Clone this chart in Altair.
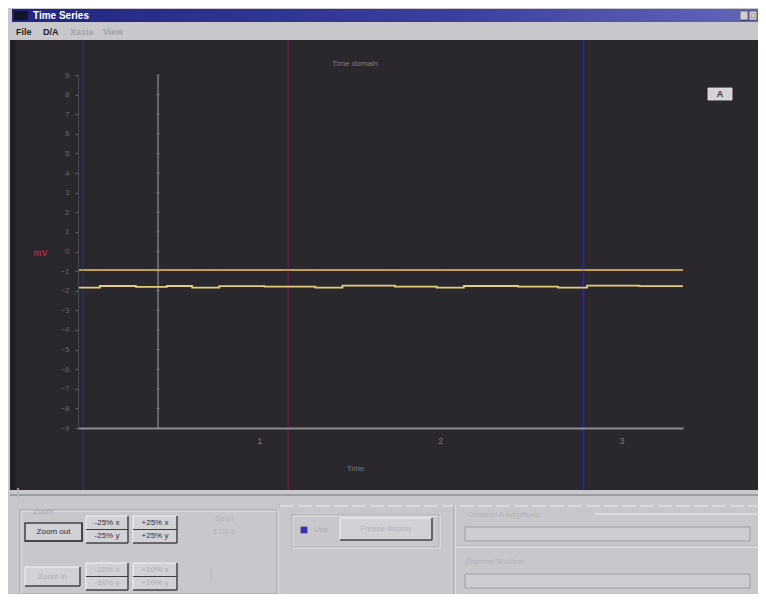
import altair as alt
import pandas as pd

# ---------------- data ----------------
# flat trace (upper yellow line)
trace_a_time = [0.0, 3.34]
trace_a_value = [-0.94, -0.94]

# slightly wandering trace (lower yellow line), step-wise
trace_b_time = [0.0, 0.12, 0.32, 0.49, 0.63, 0.78, 1.03, 1.31, 1.46, 1.75,
                1.98, 2.13, 2.43, 2.65, 2.81, 3.10, 3.34]
trace_b_value = [-1.84, -1.76, -1.80, -1.76, -1.84, -1.77, -1.79, -1.84, -1.74, -1.79,
                 -1.84, -1.76, -1.79, -1.84, -1.74, -1.77, -1.77]

zero_marker_time = [0.442]
cursor_times = [0.028, 1.16, 2.79]
y_tick_values = list(range(-9, 10))
x_tick_values = [1, 2, 3]

FONT = "Liberation Sans"

df_a = pd.DataFrame({"t": trace_a_time, "v": trace_a_value})
df_b = pd.DataFrame({"t": trace_b_time, "v": trace_b_value})
df_zero = pd.DataFrame({"t": zero_marker_time})
df_zero_ticks = pd.DataFrame({"t": zero_marker_time * len(y_tick_values), "v": y_tick_values})
one = pd.DataFrame({"k": [0]})

xs = alt.Scale(domain=[0, 3.34], nice=False, zero=False)
ys = alt.Scale(domain=[-9, 9], nice=False, zero=False)

x_axis = alt.Axis(values=x_tick_values, format="d", grid=False, ticks=False,
                  domainColor="#8c8c92", domainWidth=2, labelColor="#77777d",
                  labelFontSize=9, labelPadding=8, labelFont=FONT,
                  labelOverlap=False,
                  title="Time", titleColor="#7a7a80", titleFontSize=8,
                  titleFontWeight="normal", titleFont=FONT, titleX=277, titleY=40,
                  titleBaseline="middle", zindex=1)
y_axis = alt.Axis(values=y_tick_values, grid=False, domainColor="#4a4850",
                  tickColor="#66666c", tickSize=3, labelColor="#66666c",
                  labelFontSize=8, labelPadding=6, labelFont=FONT,
                  labelOverlap=False, labelSeparation=0,
                  title="mV", titleAngle=0, titleX=-38, titleY=177,
                  titleColor="#b02a50", titleFontSize=9, titleFontWeight="bold",
                  titleFont=FONT, titleAlign="center", titleBaseline="middle",
                  zindex=1)


def X():
    return alt.X("t:Q", scale=xs, axis=x_axis)


def Y():
    return alt.Y("v:Q", scale=ys, axis=y_axis)


# ---------------- helpers for window chrome ----------------
def box(x, x2, y, y2, fill=None, stroke=None, sw=1.0, dash=None):
    kw = {}
    if fill is not None:
        kw["fill"] = fill
    else:
        kw["fillOpacity"] = 0
    if stroke is not None:
        kw["stroke"] = stroke
        kw["strokeWidth"] = sw
    if dash is not None:
        kw["strokeDash"] = dash
    return alt.Chart(one).mark_rect(**kw).encode(
        x=alt.value(x), x2=alt.value(x2), y=alt.value(y), y2=alt.value(y2))


def label(x, y, text, color="#303036", size=9, weight="normal", align="center"):
    return alt.Chart(one).mark_text(color=color, fontSize=size, fontWeight=weight,
                                    align=align, baseline="middle", font=FONT).encode(
        x=alt.value(x), y=alt.value(y), text=alt.value(text))


def hline(x, x2, y, color, sw=1.0, dash=None):
    kw = {"color": color, "strokeWidth": sw}
    if dash is not None:
        kw["strokeDash"] = dash
    return alt.Chart(one).mark_rule(**kw).encode(
        x=alt.value(x), x2=alt.value(x2), y=alt.value(y))


def vline(x, y, y2, color, sw=1.0):
    return alt.Chart(one).mark_rule(color=color, strokeWidth=sw).encode(
        x=alt.value(x), y=alt.value(y), y2=alt.value(y2))


def button(x, x2, y, y2, text, color="#303036", size=8, default=False):
    out = [box(x, x2, y, y2, fill="#d2d2d6", stroke="#f4f4f6", sw=1),
           hline(x, x2, y2, "#3c3c42", 1.5),
           vline(x2, y, y2, "#3c3c42", 1.5)]
    if default:
        out.append(box(x, x2, y, y2, stroke="#3a3a40", sw=1.5))
    out.append(label((x + x2) / 2, (y + y2) / 2, text, color=color, size=size))
    return out


def pair_button(x, x2, y, y2, t1, t2, color="#303036"):
    mid = (y + y2) / 2
    return [box(x, x2, y, y2, fill="#d2d2d6", stroke="#f4f4f6", sw=1),
            hline(x, x2, mid, "#3c3c42", 1.2),
            hline(x, x2, y2, "#3c3c42", 1.5),
            vline(x2, y, y2, "#3c3c42", 1.5),
            label((x + x2) / 2, (y + mid) / 2, t1, color=color, size=8),
            label((x + x2) / 2, (mid + y2) / 2, t2, color=color, size=8)]


layers = []

# title bar
title_grad = alt.LinearGradient(
    gradient="linear",
    stops=[alt.GradientStop(color="#20267f", offset=0),
           alt.GradientStop(color="#3b40a0", offset=0.6),
           alt.GradientStop(color="#6266b8", offset=1)],
    x1=0, x2=1, y1=0, y2=0)
layers.append(alt.Chart(one).mark_rect(color=title_grad).encode(
    x=alt.value(-66), x2=alt.value(680), y=alt.value(-66), y2=alt.value(-53)))
layers.append(box(-64, -50, -64, -55, fill="#15152a"))
layers.append(label(-45, -59.5, "Time Series", color="#ffffff", size=10,
                    weight="bold", align="left"))
layers.append(box(662, 670, -64, -55, fill="#cfcfd3", stroke="#505058", sw=0.8))
layers.append(box(671, 679, -64, -55, fill="#cfcfd3", stroke="#505058", sw=0.8))
layers.append(label(666, -58, "_", color="#202024", size=8))
layers.append(label(675, -59.5, "□", color="#202024", size=7))

# menu
layers.append(label(-62, -43, "File", color="#1a1a1e", size=9, weight="bold", align="left"))
layers.append(label(-35, -43, "D/A", color="#1a1a1e", size=9, weight="bold", align="left"))
layers.append(label(-8, -43, "Xaxis", color="#a2a2a8", size=9, weight="bold", align="left"))
layers.append(label(25, -43, "View", color="#a2a2a8", size=9, weight="bold", align="left"))

# dark display panel
layers.append(box(-68, 680, -35, 415, fill="#2a282d"))
layers.append(box(-68, -62, -35, 415, fill="#1f1e22"))

# traces (first data layer carries the axes)
layers.append(alt.Chart(df_a).mark_line(color="#c8a84f", strokeWidth=1.6).encode(
    x=X(), y=Y()))

# cursors (coloured vertical lines)
cursor_colors = ["#2e2a58", "#5e1d42", "#2f2596"]
for i, c in enumerate(cursor_colors):
    layers.append(alt.Chart(pd.DataFrame({"t": [cursor_times[i]]}))
                  .mark_rule(color=c, strokeWidth=2)
                  .encode(x=X(), y=alt.value(-35), y2=alt.value(415)))

# zero-time marker with ticks
layers.append(alt.Chart(df_zero).mark_rule(color="#86868c", strokeWidth=1.3)
              .encode(x=X()))
layers.append(alt.Chart(df_zero_ticks).mark_tick(color="#74747a", orient="horizontal",
                                                 size=4, thickness=1)
              .encode(x=X(), y=Y()))

# redraw traces above the cursors
layers.append(alt.Chart(df_a).mark_line(color="#c8a84f", strokeWidth=1.6).encode(
    x=X(), y=Y()))
layers.append(alt.Chart(df_b).mark_line(color="#e2cd7c", strokeWidth=1.8,
                                        interpolate="step-after").encode(
    x=X(), y=Y()))

# chart title and "A" badge
layers.append(label(277, -11, "Time domain", color="#7e7e86", size=8))
layers.append(box(630, 654, 13, 25, fill="#d4d4d8", stroke="#e8e8ec", sw=0.8))
layers.append(label(642, 19, "A", color="#3a3a40", size=9, weight="bold"))

# separator / slider under the display
layers.append(hline(-68, 680, 420, "#6e6e74", 1.2))
layers.append(vline(-60, 413, 423, "#b8b8bc", 1.5))
layers.append(hline(202, 680, 431, "#ececf0", 1, dash=[14, 4]))

# group box 1 (zoom controls)
layers.append(box(-58, 199, 435, 519, stroke="#96969e", sw=1))
layers.append(box(-57, 200, 436, 520, stroke="#eeeef2", sw=0.8))
layers.append(label(-45, 437, "Zoom", color="#a4a4aa", size=8, align="left"))
layers += button(-53, 4, 448, 466, "Zoom out", size=8, default=True)
layers += pair_button(8, 50, 441, 468, "-25% x", "-25% y")
layers += pair_button(55, 99, 441, 468, "+25% x", "+25% y")
layers += button(-53, 2, 492, 511, "Zoom in", color="#acacb2", size=8)
layers += pair_button(8, 50, 488, 515, "-10% x", "-10% y", color="#acacb2")
layers += pair_button(55, 99, 488, 515, "+10% x", "+10% y", color="#acacb2")
layers.append(label(146, 444, "Span", color="#b0b0b6", size=8))
layers.append(label(146, 457, "1.00 s", color="#b0b0b6", size=8))
layers.append(vline(133, 492, 506, "#b4b4ba", 1))

# radio / freeze area
layers.append(box(215, 362, 441, 473, stroke="#eeeef2", sw=1))
layers.append(box(214, 361, 440, 472, stroke="#a4a4ac", sw=0.8))
layers.append(alt.Chart(one).mark_point(shape="square", filled=True, size=45,
                                        color="#3434a8", opacity=1).encode(
    x=alt.value(226), y=alt.value(455)))
layers.append(label(236, 455, "Use", color="#aeaeb4", size=8, align="left"))
layers += button(262, 354, 443, 465, "Freeze display", color="#b2b2b8", size=8)

# separator
layers.append(vline(377, 430, 519, "#eeeef2", 1))
layers.append(vline(376, 430, 519, "#a0a0a8", 1))

# channel groups
layers.append(label(389, 440, "Channel A amplitude", color="#b2b2b8", size=8, align="left"))
layers.append(hline(517, 680, 439, "#eeeef2", 1))
layers.append(box(387, 672, 452, 466, fill="#cdcdd1", stroke="#9c9ca4", sw=1))
layers.append(hline(378, 680, 471, "#a8a8b0", 1))
layers.append(hline(378, 680, 472, "#eeeef2", 1))
layers.append(label(387, 487, "Channel B offset", color="#b2b2b8", size=8, align="left"))
layers.append(box(387, 672, 499, 513, fill="#cdcdd1", stroke="#9c9ca4", sw=1))

chart = alt.layer(*layers).properties(
    width=605, height=353,
    autosize=alt.AutoSizeParams(type="none"),
    padding={"left": 70, "top": 67, "right": 75, "bottom": 166},
    background="#c8c8cc",
).configure_view(strokeWidth=0, fill=None).configure_axis(
    labelOverlap=False
).configure(font=FONT)

chart.save("out.html", embed_options={"renderer": "svg", "actions": False})
